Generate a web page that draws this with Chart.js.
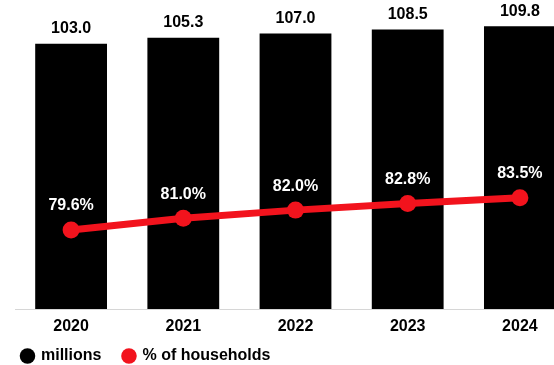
<!DOCTYPE html>
<html>
<head>
<meta charset="utf-8">
<script src="https://cdn.jsdelivr.net/npm/chart.js@4"></script>
<style>
  html, body { margin: 0; padding: 0; background: #fff; overflow: hidden; }
  #wrap { width: 554px; height: 365px; overflow: hidden; position: relative; }
  #householdChart { position: absolute; left: 0; top: 0; }
</style>
</head>
<body>
<div id="wrap"><canvas id="householdChart" width="576" height="365"></canvas></div>
<script>
const years = ['2020', '2021', '2022', '2023', '2024'];
const millions = [103.0, 105.3, 107.0, 108.5, 109.8];
const share = [79.6, 81.0, 82.0, 82.8, 83.5];

const FONT = '"Liberation Sans", Arial, Helvetica, sans-serif';
const RED = '#f2131d';

// numbers above the bars and above the line points
const valueLabels = {
  id: 'valueLabels',
  afterDatasetsDraw(chart) {
    const ctx = chart.ctx;
    ctx.save();
    ctx.font = 'bold 16px ' + FONT;
    ctx.textAlign = 'center';
    ctx.textBaseline = 'middle';
    chart.getDatasetMeta(0).data.forEach((bar, i) => {
      ctx.fillStyle = '#000';
      ctx.fillText(millions[i].toFixed(1), bar.x, bar.y - 15);
    });
    chart.getDatasetMeta(1).data.forEach((pt, i) => {
      ctx.fillStyle = '#fff';
      ctx.fillText(share[i].toFixed(1) + '%', pt.x, pt.y - 24);
    });
    ctx.restore();
  }
};

new Chart(document.getElementById('householdChart'), {
  data: {
    labels: years,
    datasets: [
      {
        type: 'bar',
        label: 'millions',
        data: millions,
        backgroundColor: '#000',
        borderWidth: 0,
        barPercentage: 0.64,
        categoryPercentage: 1,
        yAxisID: 'y',
        order: 1
      },
      {
        type: 'line',
        label: '% of households',
        data: share,
        borderColor: RED,
        backgroundColor: RED,
        borderWidth: 7,
        pointRadius: 8.5,
        pointBorderWidth: 0,
        pointBackgroundColor: RED,
        tension: 0,
        yAxisID: 'y1',
        order: 0
      }
    ]
  },
  options: {
    responsive: false,
    animation: false,
    layout: { autoPadding: false, padding: { top: 0, right: 0, left: 0, bottom: -9 } },
    scales: {
      x: {
        grid: { display: false, drawTicks: false },
        border: { display: true, color: '#d6d6d6', width: 1 },
        // mirrored so the labels are not clipped to the shortened axis box
        ticks: { mirror: true, padding: -27, color: '#000', font: { family: FONT, size: 16, weight: 'bold' } },
        afterFit: (scale) => { scale.height = 17; }
      },
      y: {
        position: 'left',
        min: 0,
        max: 120,
        grid: { display: false, drawTicks: false },
        border: { display: false },
        ticks: { display: false },
        afterFit: (scale) => { scale.width = 15; }
      },
      y1: {
        display: false,
        min: 70,
        max: 107.5
      }
    },
    plugins: {
      legend: {
        position: 'bottom',
        align: 'start',
        labels: {
          usePointStyle: true,
          pointStyle: 'circle',
          boxWidth: 11,
          boxHeight: 11,
          padding: 22,
          color: '#000',
          font: { family: FONT, size: 16, weight: 'bold' },
          sort: (a, b) => a.datasetIndex - b.datasetIndex
        }
      },
      tooltip: { enabled: false }
    }
  },
  plugins: [valueLabels]
});
</script>
</body>
</html>
